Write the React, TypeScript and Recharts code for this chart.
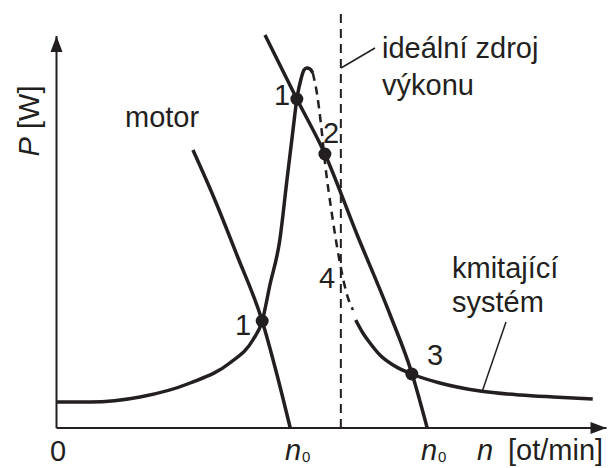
import { ComposedChart, Line, XAxis, YAxis, ReferenceLine, ReferenceDot } from 'recharts'

// units: n 0..100 across the x axis, P 0..105 up the y axis

const ink = '#231f20'
const font = '"Liberation Sans", Arial, sans-serif'

// --- kmitající systém (resonance curve) ---
const resonanceLeft = [
  { n: 0.1, p: 6.5 },
  { n: 6.1, p: 6.5 },
  { n: 15.2, p: 7.75 },
  { n: 24.3, p: 11.25 },
  { n: 31.5, p: 16.25 },
  { n: 35.7, p: 22 },
  { n: 37.4, p: 26.75 },
  { n: 38.8, p: 35.75 },
  { n: 40.6, p: 47 },
  { n: 41.9, p: 62 },
  { n: 43.0, p: 74.5 },
  { n: 43.7, p: 82.25 },
  { n: 44.5, p: 87.5 },
  { n: 45.0, p: 89.5 },
  { n: 45.5, p: 90 },
  { n: 46.1, p: 89.75 },
  { n: 46.6, p: 88.75 },
]

const resonanceUnstable = [
  { n: 46.6, p: 88.75 },
  { n: 47.4, p: 83.25 },
  { n: 48.1, p: 75.75 },
  { n: 48.8, p: 66.5 },
  { n: 50.1, p: 53.25 },
  { n: 51.5, p: 41.5 },
  { n: 53.0, p: 32.5 },
  { n: 53.9, p: 29.5 },
]

const resonanceRight = [
  { n: 54.4, p: 27 },
  { n: 55.7, p: 23.75 },
  { n: 57.0, p: 21.25 },
  { n: 58.8, p: 18.25 },
  { n: 61.5, p: 15.5 },
  { n: 64.6, p: 13.5 },
  { n: 69.7, p: 11.25 },
  { n: 77.0, p: 9.25 },
  { n: 84.3, p: 8.25 },
  { n: 90.3, p: 7.75 },
  { n: 97.5, p: 7.25 },
]

// --- motor characteristics ---
const motorA = [
  { n: 24.8, p: 69.5 },
  { n: 28.8, p: 57 },
  { n: 32.8, p: 43.25 },
  { n: 37.4, p: 26.75 },
  { n: 40.1, p: 13.25 },
  { n: 42.5, p: 0 },
]

const motorB = [
  { n: 37.9, p: 98.25 },
  { n: 43.7, p: 82.25 },
  { n: 48.8, p: 68.5 },
  { n: 54.6, p: 48.5 },
  { n: 60.6, p: 28.5 },
  { n: 64.6, p: 13.75 },
  { n: 67.4, p: 0 },
]

// operating points
const workPoints = [
  { n: 37.4, p: 26.75 },
  { n: 43.7, p: 82.25 },
  { n: 48.8, p: 68.5 },
  { n: 64.6, p: 13.5 },
]

const idealSource = 51.7
const yAxisTop = 98
const xAxisEnd = 100

const lineProps = {
  type: 'monotone' as const,
  dataKey: 'p',
  stroke: ink,
  strokeWidth: 3.5,
  dot: false,
  activeDot: false,
  isAnimationActive: false,
}

export default function App() {
  return (
    <div style={{ position: 'absolute', left: 0, top: 0, width: 612, height: 468, background: '#fff' }}>
      <ComposedChart width={612} height={468} margin={{ top: 8, right: 5.5, bottom: 40, left: 56.5 }}>
        <XAxis type="number" dataKey="n" domain={[0, 100]} hide />
        <YAxis type="number" dataKey="p" domain={[0, 105]} hide />

        <ReferenceLine x={idealSource} stroke={ink} strokeWidth={2} strokeDasharray="9 6" />

        <ReferenceLine segment={[{ x: 0, y: 0 }, { x: xAxisEnd, y: 0 }]} stroke={ink} strokeWidth={2} />
        <ReferenceLine segment={[{ x: 0, y: 0 }, { x: 0, y: yAxisTop }]} stroke={ink} strokeWidth={2} />
        <ReferenceDot
          x={0}
          y={yAxisTop}
          shape={(p: any) => <path d={`M${p.cx},${p.cy} l-6,16 l12,0 z`} fill={ink} />}
        />
        <ReferenceDot
          x={xAxisEnd}
          y={0}
          shape={(p: any) => <path d={`M${p.cx},${p.cy} l-16,-6 l0,12 z`} fill={ink} />}
        />

        <Line {...lineProps} data={resonanceLeft} />
        <Line {...lineProps} data={resonanceUnstable} strokeWidth={2.5} strokeDasharray="8 6" />
        <Line {...lineProps} data={resonanceRight} />
        <Line {...lineProps} data={motorA} />
        <Line {...lineProps} data={motorB} />

        {workPoints.map((d, i) => (
          <ReferenceDot key={i} x={d.n} y={d.p} r={6.5} fill={ink} stroke="none" />
        ))}
      </ComposedChart>

      <svg
        width={612}
        height={468}
        style={{ position: 'absolute', left: 0, top: 0, pointerEvents: 'none' }}
        fontFamily={font}
        fill={ink}
      >
        {/* leader lines */}
        <line x1={341} y1={68} x2={375} y2={48} stroke={ink} strokeWidth={1.5} />
        <line x1={506} y1={322} x2={482} y2={392} stroke={ink} strokeWidth={1.5} />

        <text x={39} y={121} fontSize={29} textAnchor="middle" transform="rotate(-90 39 121)">
          <tspan fontStyle="italic">P</tspan> [W]
        </text>

        <text x={125} y={127} fontSize={29}>motor</text>
        <text x={382} y={58} fontSize={29}>ideální zdroj</text>
        <text x={382} y={95} fontSize={29}>výkonu</text>
        <text x={452} y={278} fontSize={29}>kmitající</text>
        <text x={452} y={312} fontSize={29}>systém</text>

        <text x={282} y={105} fontSize={29} textAnchor="middle">1</text>
        <text x={331} y={143} fontSize={29} textAnchor="middle">2</text>
        <text x={243} y={335} fontSize={29} textAnchor="middle">1</text>
        <text x={327} y={288} fontSize={29} textAnchor="middle">4</text>
        <text x={435} y={365} fontSize={29} textAnchor="middle">3</text>

        <text x={58} y={461} fontSize={29} textAnchor="middle">0</text>
        <text x={285} y={460} fontSize={29} fontStyle="italic">n</text>
        <text x={302} y={462} fontSize={15}>0</text>
        <text x={421} y={460} fontSize={29} fontStyle="italic">n</text>
        <text x={438} y={462} fontSize={15}>0</text>
        <text x={477} y={460} fontSize={29} fontStyle="italic">n</text>
        <text x={508} y={460} fontSize={29}>[ot/min]</text>
      </svg>
    </div>
  )
}
